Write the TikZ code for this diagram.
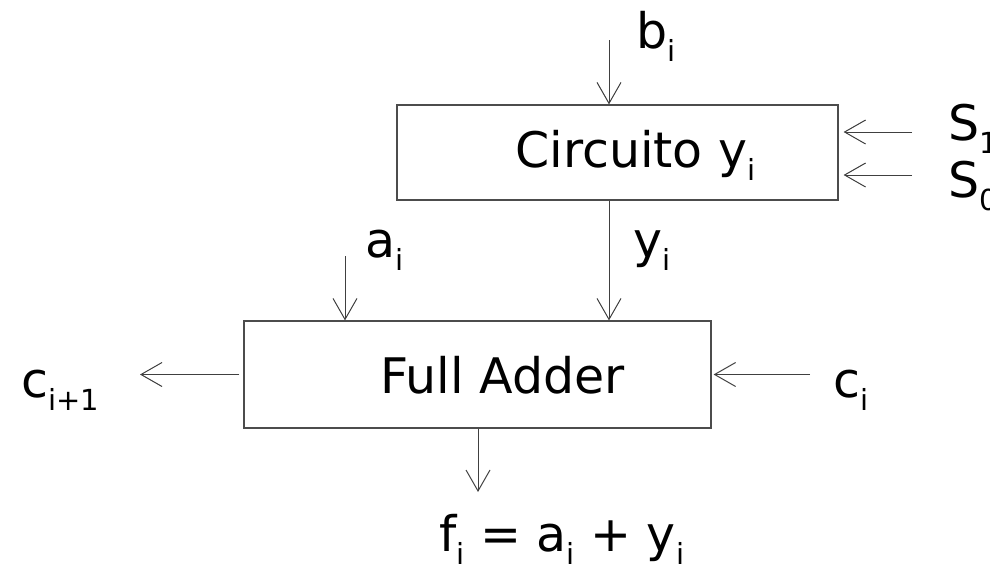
\documentclass[tikz,border=0pt]{standalone}
\usepackage{fontspec}
\setmainfont{DejaVu Sans}
\usetikzlibrary{arrows.meta}
\newcommand{\sbx}[1]{\raisebox{-13pt}{\fontsize{29}{29}\selectfont #1}}
\begin{document}
\begin{tikzpicture}[x=1pt,y=-1pt,
  box/.style={draw=black!70,line width=1.2pt,inner sep=0pt,rectangle},
  arrow/.style={draw=black!75,line width=1pt,-{Straight Barb[length=21pt,width=24pt,line width=1pt]}},
  lbl/.style={anchor=base west,inner sep=0pt,font=\fontsize{49}{58}\selectfont}]
\useasboundingbox (0,0) rectangle (990,571);
% boxes
\node[box,minimum width=441pt,minimum height=95pt] (cbox) at (617.5,152.5) {};
\node[box,minimum width=467pt,minimum height=107pt] (fa) at (477.5,374.5) {};
% box texts
\node[lbl] (ctext) at (515,167) {Circuito y\sbx{i}};
\node[lbl] (fatext) at (380,393) {Full Adder};
% labels
\node[lbl] (bl) at (636,48) {b\sbx{i}};
\node[lbl] (s1l) at (948,140) {S\sbx{1}};
\node[lbl] (s0l) at (948,197) {S\sbx{0}};
\node[lbl] (al) at (365,257) {a\sbx{i}};
\node[lbl] (yl) at (633,257) {y\sbx{i}};
\node[lbl] (cpl) at (21,397) {c\sbx{i+1}};
\node[lbl] (cil) at (833,397) {c\sbx{i}};
\node[lbl] (fl) at (439,551) {f\sbx{i} = a\sbx{i} + y\sbx{i}};
% connector ends
\coordinate (bstart) at (609,40);
\coordinate (astart) at (345,256);
\coordinate (s1s) at (912,132);
\coordinate (s0s) at (912,175);
\coordinate (cpend) at (140,374.5);
\coordinate (cis) at (810,374.5);
\coordinate (fend) at (478,492);
% connectors
\draw[arrow] (bstart) -- (bstart |- cbox.north);
\draw[arrow] (cbox.south -| bstart) -- (fa.north -| bstart);
\draw[arrow] (astart) -- (fa.north -| astart);
\draw[arrow] (s1s) -- ([xshift=5pt]cbox.east |- s1s);
\draw[arrow] (s0s) -- ([xshift=5pt]cbox.east |- s0s);
\draw[arrow] ([xshift=-4pt]fa.west) -- (cpend);
\draw[arrow] (cis) -- ([xshift=2pt]fa.east);
\draw[arrow] (fa.south -| fend) -- (fend);
\end{tikzpicture}
\end{document}
